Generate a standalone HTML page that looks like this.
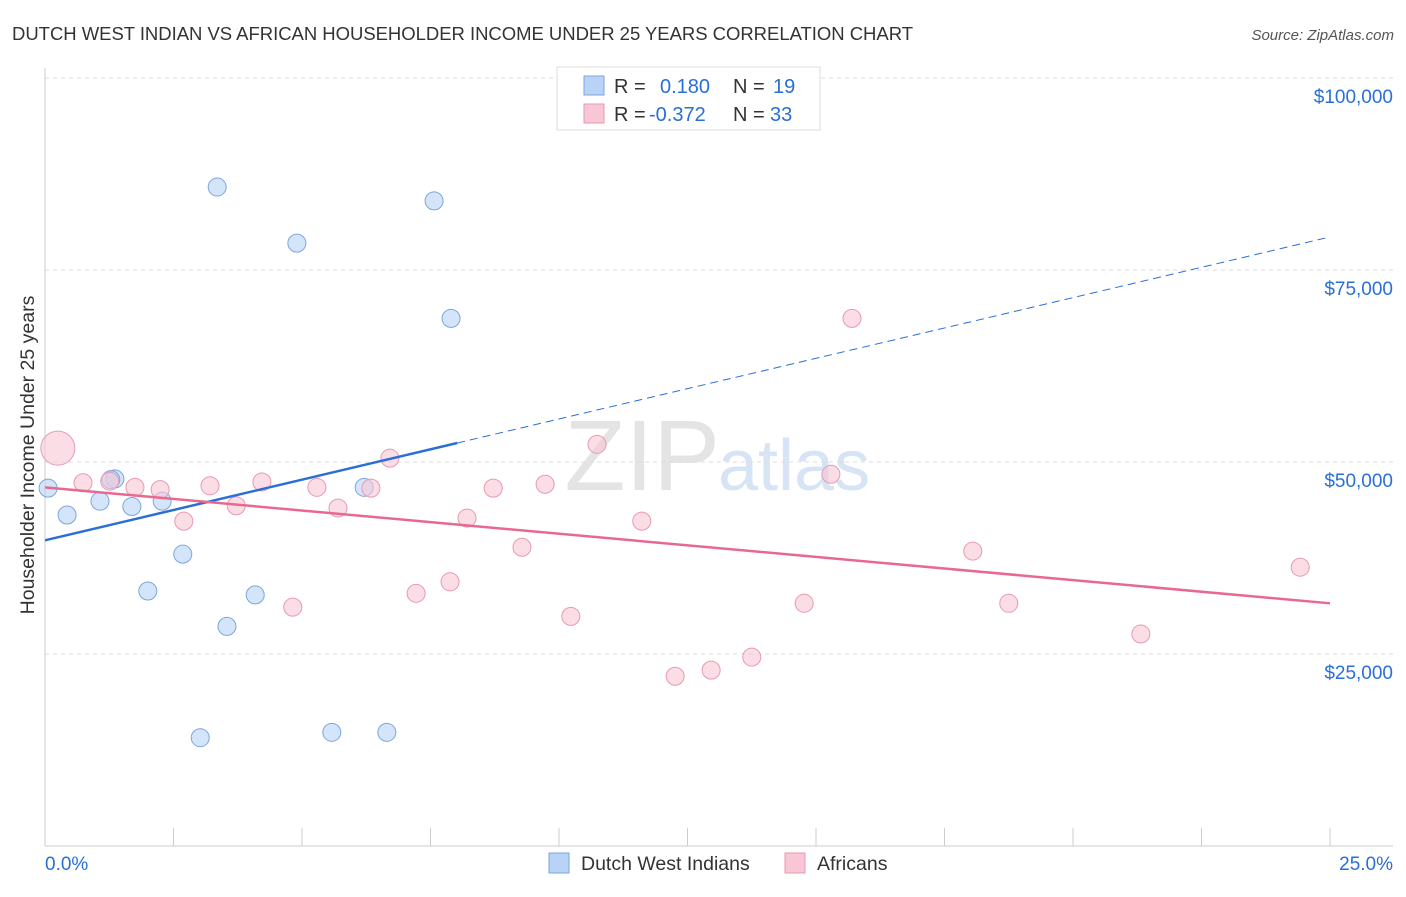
<!DOCTYPE html>
<html><head><meta charset="utf-8"><style>
body{margin:0;background:#fff;font-family:"Liberation Sans",sans-serif}
svg text{font-family:"Liberation Sans",sans-serif}
</style></head><body>
<svg id="chart" width="1406" height="892" xmlns="http://www.w3.org/2000/svg">
<text x="12" y="40" font-size="18.5" fill="#333" textLength="901">DUTCH WEST INDIAN VS AFRICAN HOUSEHOLDER INCOME UNDER 25 YEARS CORRELATION CHART</text>
<text x="1394" y="40" font-size="15" fill="#555" text-anchor="end" font-style="italic">Source: ZipAtlas.com</text>
<text x="720" y="490" font-size="100" fill="#e4e4e4" text-anchor="end" font-family="Liberation Serif">ZIP</text>
<text x="718" y="490" font-size="72" fill="#d6e4f6">atlas</text>
<text transform="translate(34,455) rotate(-90)" font-size="19.5" fill="#333" text-anchor="middle">Householder Income Under 25 years</text>
<g id="grid"></g><g id="marks"></g>
<g>
<rect x="557" y="67" width="263" height="63" fill="#fff" stroke="#ddd"/>
<rect x="584" y="76" width="20" height="19" fill="#b8d3f5" stroke="#7aa6e0"/>
<rect x="584" y="104" width="20" height="19" fill="#f9c6d6" stroke="#e899b3"/>
<text x="614" y="93" font-size="20" fill="#333">R = <tspan fill="#2a6fd6" x="660">0.180</tspan><tspan x="733" fill="#333">N = </tspan><tspan fill="#2a6fd6" x="773">19</tspan></text>
<text x="614" y="121" font-size="20" fill="#333">R = <tspan fill="#2a6fd6" x="649">-0.372</tspan><tspan x="733" fill="#333">N = </tspan><tspan fill="#2a6fd6" x="770">33</tspan></text>
</g>
<g>
<rect x="549" y="853" width="20" height="20" fill="#b8d3f5" stroke="#7aa6e0"/>
<text x="581" y="870" font-size="19.5" fill="#333">Dutch West Indians</text>
<rect x="785" y="853" width="20" height="20" fill="#f9c6d6" stroke="#e899b3"/>
<text x="817" y="870" font-size="19.5" fill="#333">Africans</text>
</g>
<text x="45" y="870" font-size="19" fill="#2a6fd6">0.0%</text>
<text x="1393" y="870" font-size="19" fill="#2a6fd6" text-anchor="end">25.0%</text>
</svg>
<script>
const yTicks=[25,50,75,100];
const blueX=[0.06,0.43,1.07,1.36,1.28,1.69,2.28,2.68,2.0,3.35,3.02,3.54,4.09,4.90,5.58,6.21,6.65,7.57,7.90];
const blueY=[46.6,43.1,44.9,47.8,47.7,44.2,44.9,38.0,33.2,85.8,14.1,28.6,32.7,78.5,14.8,46.7,14.8,84.0,68.7];
const pinkX=[0.25,0.74,1.26,1.75,2.24,2.70,3.21,3.72,4.22,4.82,5.29,5.70,6.34,6.71,7.22,7.88,8.21,8.72,9.28,9.73,10.23,10.74,11.61,12.26,12.96,13.75,14.77,15.29,15.70,18.05,18.75,21.32,24.42];
const pinkY=[51.8,47.3,47.5,46.7,46.4,42.3,46.9,44.3,47.4,31.1,46.7,44.0,46.6,50.5,32.9,34.4,42.7,46.6,38.9,47.1,29.9,52.3,42.3,22.1,22.9,24.6,31.6,48.4,68.7,38.4,31.6,27.6,36.3];
const blueTrend=[39.8,1.58];
const pinkTrend=[46.7,-0.604];
const NS="http://www.w3.org/2000/svg";
const X=v=>45+v*51.4, Y=v=>846-v*7.68;
function mk(t,a,p){const e=document.createElementNS(NS,t);for(const k in a)e.setAttribute(k,a[k]);p.appendChild(e);return e;}
const g=document.getElementById('grid'),m=document.getElementById('marks');
yTicks.forEach(t=>{
 const l=mk('line',{x1:45,x2:1393,y1:Y(t),y2:Y(t),stroke:'#ddd','stroke-dasharray':'4,4'},g);
 
 
 const tx=mk('text',{x:1393,y:Y(t)+25,'font-size':19,fill:'#2a6fd6','text-anchor':'end'},g);
 tx.textContent='$'+(t*1000).toLocaleString('en-US');
 
 
});
mk('line',{x1:45,x2:45,y1:68,y2:846,stroke:'#ccc'},g);
mk('line',{x1:45,x2:1393,y1:846,y2:846,stroke:'#ccc'},g);
for(let i=1;i<=10;i++){const x=45+i*128.5;mk('line',{x1:x,x2:x,y1:828,y2:846,stroke:'#ccc'},g);}
function pts(xs,ys,fill,stroke,name){xs.forEach((x,i)=>{
 const r=(name==='african-point'&&i===0)?17:9;
 const c=mk('circle',{cx:X(x),cy:Y(ys[i]),r:r,fill:fill,'fill-opacity':0.6,stroke:stroke,'stroke-width':1},m);
 
 
});}
pts(blueX,blueY,'#b8d3f5','#7aa6e0','dutch-west-indian-point');
pts(pinkX,pinkY,'#f9c6d6','#e899b3','african-point');
const bmax=Math.max(...blueX)+0.12;
let l=mk('line',{x1:X(0),y1:Y(blueTrend[0]),x2:X(bmax),y2:Y(blueTrend[0]+blueTrend[1]*bmax),stroke:'#2a6fd6','stroke-width':2.5},m);


l=mk('line',{x1:X(bmax),y1:Y(blueTrend[0]+blueTrend[1]*bmax),x2:X(25),y2:Y(blueTrend[0]+blueTrend[1]*25),stroke:'#2a6fd6','stroke-width':1,'stroke-dasharray':'8,5'},m);


l=mk('line',{x1:X(0),y1:Y(pinkTrend[0]),x2:X(25),y2:Y(pinkTrend[0]+pinkTrend[1]*25),stroke:'#e8698f','stroke-width':2.5},m);


</script>
</body></html>
